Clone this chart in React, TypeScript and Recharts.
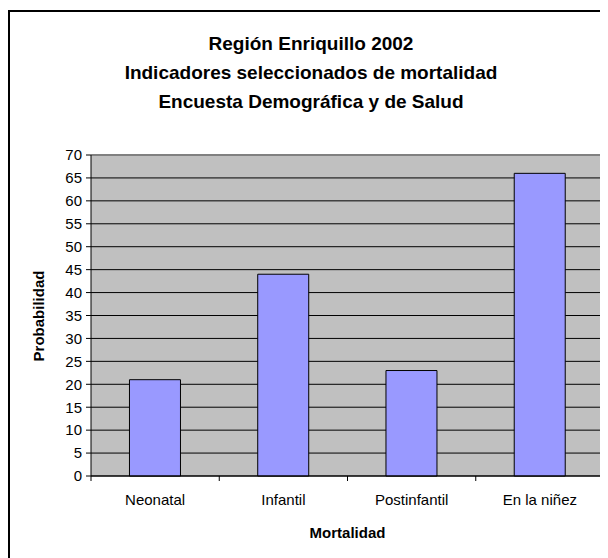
import {
  BarChart,
  Bar,
  XAxis,
  YAxis,
  CartesianGrid,
  ReferenceLine,
} from "recharts";

const categories = ["Neonatal", "Infantil", "Postinfantil", "En la niñez"];
const probabilidad = [21, 44, 23, 66];
const yTicks = [0, 5, 10, 15, 20, 25, 30, 35, 40, 45, 50, 55, 60, 65, 70];
const titleLines = [
  "Región Enriquillo 2002",
  "Indicadores seleccionados de mortalidad",
  "Encuesta Demográfica y de Salud",
];

const data = categories.map((name, i) => ({ name, value: probabilidad[i] }));

const CHART_W = 598;
const CHART_H = 550;
const MARGIN = { top: 147, right: 2, bottom: 52, left: 0 };
const Y_AXIS_W = 83;
const PLOT_W = CHART_W - MARGIN.left - MARGIN.right - Y_AXIS_W;
const BAND = PLOT_W / categories.length;
const FONT = "'Liberation Sans', Arial, sans-serif";

function CategoryTick(props: any) {
  const { x, y, payload, index } = props;
  const last = index === categories.length - 1;
  return (
    <g>
      <line x1={x - BAND / 2} y1={y} x2={x - BAND / 2} y2={y + 5} stroke="#000" />
      {last && <line x1={x + BAND / 2} y1={y} x2={x + BAND / 2} y2={y + 5} stroke="#000" />}
      <text x={x} y={y + 29} textAnchor="middle" fontSize={15} fontFamily={FONT} fill="#000">
        {payload.value}
      </text>
    </g>
  );
}

export default function App() {
  return (
    <div style={{ position: "relative", width: CHART_W, height: CHART_H, fontFamily: FONT }}>
      <div
        style={{
          position: "absolute",
          left: 0,
          top: 2,
          width: CHART_W + 10,
          height: CHART_H + 10,
          borderTop: "2px solid #000",
          borderLeft: "2px solid #000",
          boxSizing: "border-box",
          pointerEvents: "none",
        }}
      />
      <div
        style={{
          position: "absolute",
          left: 0,
          top: 21,
          width: 606,
          textAlign: "center",
          fontWeight: "bold",
          fontSize: 19,
          lineHeight: "29px",
          color: "#000",
        }}
      >
        {titleLines.map((t) => (
          <div key={t}>{t}</div>
        ))}
      </div>
      <div
        style={{
          position: "absolute",
          left: 30,
          top: 308,
          transform: "translate(-50%, -50%) rotate(-90deg)",
          fontWeight: "bold",
          fontSize: 15,
          whiteSpace: "nowrap",
        }}
      >
        Probabilidad
      </div>
      <div
        style={{
          position: "absolute",
          left: MARGIN.left + Y_AXIS_W + PLOT_W / 2,
          top: 524,
          transform: "translate(-50%, -50%)",
          fontWeight: "bold",
          fontSize: 15,
          whiteSpace: "nowrap",
        }}
      >
        Mortalidad
      </div>
      <BarChart
        width={CHART_W}
        height={CHART_H}
        data={data}
        margin={MARGIN}
        barCategoryGap="30%"
        style={{ position: "absolute", left: 0, top: 0 }}
      >
        <CartesianGrid
          fill="#C0C0C0"
          stroke="#000"
          horizontal={{ stroke: "#000" }}
          vertical={{ stroke: "#808080", strokeWidth: 2 }}
          verticalCoordinatesGenerator={({ offset }: any) => [offset.left + offset.width - 1]}
        />
        <XAxis
          dataKey="name"
          height={30}
          axisLine={{ stroke: "#000" }}
          tickLine={false}
          tickSize={0}
          tickMargin={0}
          tick={<CategoryTick />}
          interval={0}
        />
        <YAxis
          width={Y_AXIS_W}
          domain={[0, 70]}
          ticks={yTicks}
          interval={0}
          axisLine={{ stroke: "#000" }}
          tickLine={{ stroke: "#000" }}
          tickSize={5}
          tickMargin={4}
          tick={{ fill: "#000", fontSize: 15, fontFamily: FONT }}
        />
        <ReferenceLine y={70} stroke="#808080" strokeWidth={2} />
        <Bar dataKey="value" fill="#9999FF" stroke="#000" strokeWidth={1} isAnimationActive={false} />
      </BarChart>
    </div>
  );
}
